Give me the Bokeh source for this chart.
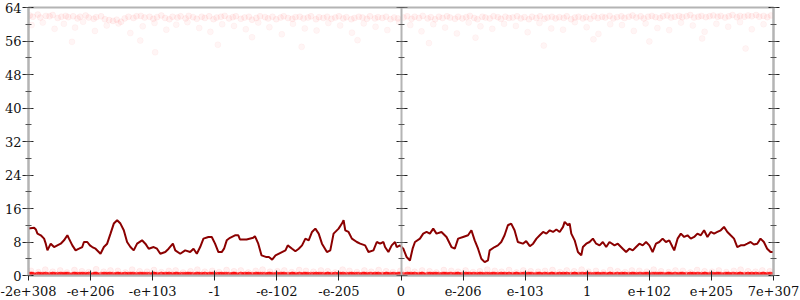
from bokeh.plotting import figure
from bokeh.models import Range1d, LinearAxis, FixedTicker, SingleIntervalTicker, CustomJSTickFormatter
from bokeh.embed import file_html
from bokeh.resources import INLINE

# x positions are in "tick units": -6 .. 6 map to the 13 labelled ticks
tick_pos = [-6, -5, -4, -3, -2, -1, 0, 1, 2, 3, 4, 5, 6]
tick_labels = ["-2e+308", "-e+206", "-e+103", "-1", "-e-102", "-e-205", "0",
               "e-206", "e-103", "1", "e+102", "e+205", "7e+307"]

# dense band of points near the top
hi_x = [-5.98, -5.93, -5.85, -5.81, -5.72, -5.66, -5.61, -5.53, -5.47, -5.40,
        -5.36, -5.28, -5.21, -5.17, -5.08, -5.03, -4.95, -4.91, -4.83, -4.77,
        -4.70, -4.64, -4.58, -4.51, -4.45, -4.39, -4.31, -4.26, -4.19, -4.13,
        -4.05, -3.99, -3.93, -3.86, -3.80, -3.73, -3.68, -3.60, -3.55, -3.47,
        -3.42, -3.35, -3.29, -3.21, -3.16, -3.09, -3.02, -2.97, -2.90, -2.84,
        -2.77, -2.71, -2.66, -2.58, -2.52, -2.45, -2.40, -2.33, -2.27, -2.19,
        -2.14, -2.07, -2.01, -1.94, -1.89, -1.82, -1.75, -1.70, -1.63, -1.57,
        -1.50, -1.45, -1.37, -1.32, -1.25, -1.19, -1.12, -1.06, -1.00, -0.93,
        -0.88, -0.80, -0.75, -0.68, -0.62, -0.55, -0.50, -0.42, -0.37, -0.30,
        -0.24, -0.17, -0.11, -0.05,
        0.04, 0.10, 0.17, 0.22, 0.29, 0.35, 0.43, 0.48, 0.55, 0.61,
        0.67, 0.74, 0.79, 0.87, 0.92, 0.99, 1.05, 1.11, 1.18, 1.23,
        1.31, 1.36, 1.43, 1.49, 1.56, 1.61, 1.68, 1.74, 1.80, 1.87,
        1.93, 1.99, 2.06, 2.11, 2.18, 2.24, 2.31, 2.36, 2.43, 2.49,
        2.55, 2.62, 2.67, 2.74, 2.80, 2.86, 2.93, 2.98, 3.05, 3.11,
        3.17, 3.24, 3.29, 3.36, 3.42, 3.48, 3.55, 3.60, 3.67, 3.73,
        3.79, 3.86, 3.91, 3.98, 4.04, 4.10, 4.17, 4.22, 4.29, 4.35,
        4.41, 4.48, 4.53, 4.60, 4.66, 4.72, 4.79, 4.84, 4.91, 4.97,
        5.03, 5.10, 5.15, 5.22, 5.28, 5.34, 5.41, 5.46, 5.53, 5.59,
        5.65, 5.72, 5.77, 5.84, 5.90, 5.96]
hi_y = [62.1, 61.8, 62.3, 61.6, 62.0, 61.9, 62.2, 61.5, 61.8, 62.0,
        61.7, 61.9, 61.4, 61.8, 62.1, 61.6, 61.3, 61.7, 61.9, 61.2,
        61.0, 60.8, 61.1, 60.6, 61.4, 61.8, 61.5, 61.9, 62.0, 61.6,
        61.8, 61.3, 61.7, 62.1, 61.5, 61.2, 61.8, 61.6, 61.9, 61.4,
        62.0, 61.7, 61.3, 61.8, 61.5, 61.9, 61.2, 61.6, 61.8, 62.0,
        61.4, 61.7, 61.9, 61.3, 61.6, 61.8, 61.1, 61.5, 61.9, 61.7,
        61.4, 61.8, 61.2, 61.6, 61.9, 61.5, 61.3, 61.7, 61.8, 61.4,
        61.6, 61.9, 61.2, 61.7, 61.5, 61.8, 61.3, 61.6, 61.9, 61.4,
        61.7, 61.2, 61.5, 61.8, 61.6, 61.3, 61.9, 61.4, 61.7, 61.5,
        61.8, 61.2, 61.6, 61.4,
        61.6, 61.9, 61.3, 61.8, 61.5, 62.0, 61.4, 61.7, 61.2, 61.8,
        61.5, 61.9, 61.6, 61.3, 61.8, 61.4, 61.7, 62.0, 61.5, 61.2,
        61.8, 61.6, 61.4, 61.9, 61.7, 61.3, 61.8, 61.5, 61.6, 61.9,
        61.4, 61.7, 61.2, 61.8, 61.5, 61.9, 61.3, 61.6, 61.8, 61.4,
        61.7, 61.5, 61.9, 61.2, 61.6, 61.8, 61.4, 61.7, 61.3, 61.9,
        61.5, 61.8, 61.6, 62.0, 61.4, 61.7, 61.9, 61.5, 61.8, 62.1,
        61.6, 61.9, 61.4, 61.8, 62.0, 61.7, 61.5, 61.9, 62.1, 61.6,
        61.8, 62.0, 61.7, 61.9, 62.2, 61.6, 61.8, 62.0, 61.7, 61.9,
        62.1, 61.8, 62.0, 61.6, 61.9, 62.2, 61.7, 62.0, 61.8, 62.1,
        61.9, 62.2, 61.8, 62.0, 61.7, 62.1]

# sparser points just below the top band
mid_x = [-5.95, -5.77, -5.58, -5.43, -5.25, -5.12, -4.93, -4.74, -4.55, -4.36,
         -4.16, -3.97, -3.78, -3.62, -3.44, -3.25, -3.07, -2.88, -2.69, -2.50,
         -2.30, -2.12, -1.92, -1.74, -1.55, -1.36, -1.17, -0.98, -0.79, -0.60,
         -0.41, -0.22, -0.03, 0.15, 0.33, 0.52, 0.71, 0.90, 1.09, 1.28,
         1.47, 1.66, 1.85, 2.04, 2.23, 2.42, 2.61, 2.80, 2.99, 3.18,
         3.37, 3.56, 3.75, 3.94, 4.13, 4.32, 4.51, 4.70, 4.89, 5.08,
         5.27, 5.46, 5.65, 5.84]
mid_y = [59.8, 60.4, 58.9, 60.1, 59.2, 60.6, 58.4, 59.7, 60.2, 57.9,
         59.5, 60.3, 58.7, 59.9, 60.5, 59.1, 58.2, 60.0, 59.6, 58.8,
         60.4, 59.3, 57.6, 60.1, 59.0, 58.5, 60.3, 59.7, 58.0, 60.2,
         59.4, 58.6, 60.5, 59.8, 58.3, 60.0, 59.2, 57.8, 60.4, 59.5,
         58.9, 60.1, 59.6, 58.1, 60.3, 59.0, 58.7, 60.5, 59.3, 57.7,
         60.0, 59.8, 58.4, 60.2, 59.1, 58.6, 60.4, 59.7, 58.2, 60.1,
         59.4, 60.5, 58.8, 60.0]

# isolated low outliers of the top group
out_x = [-5.30, -4.20, -3.96, -2.95, -2.40, -1.60, -0.70, 0.45, 1.20, 2.30,
         3.10, 4.00, 4.85, 5.55]
out_y = [55.8, 56.1, 53.3, 55.1, 56.9, 54.6, 56.2, 55.5, 56.8, 54.9,
         56.4, 55.9, 56.6, 54.2]

# faint points just above zero
lo_x = [-5.96, -5.84, -5.73, -5.61, -5.49, -5.38, -5.26, -5.14, -5.03, -4.91,
        -4.79, -4.68, -4.56, -4.44, -4.33, -4.21, -4.09, -3.98, -3.86, -3.74,
        -3.63, -3.51, -3.39, -3.28, -3.16, -3.04, -2.93, -2.81, -2.69, -2.58,
        -2.46, -2.34, -2.23, -2.11, -1.99, -1.88, -1.76, -1.64, -1.53, -1.41,
        -1.29, -1.18, -1.06, -0.94, -0.83, -0.71, -0.59, -0.48, -0.36, -0.24,
        -0.13, -0.01, 0.11, 0.22, 0.34, 0.46, 0.57, 0.69, 0.81, 0.92,
        1.04, 1.16, 1.27, 1.39, 1.51, 1.62, 1.74, 1.86, 1.97, 2.09,
        2.21, 2.32, 2.44, 2.56, 2.67, 2.79, 2.91, 3.02, 3.14, 3.26,
        3.37, 3.49, 3.61, 3.72, 3.84, 3.96, 4.07, 4.19, 4.31, 4.42,
        4.54, 4.66, 4.77, 4.89, 5.01, 5.12, 5.24, 5.36, 5.47, 5.59,
        5.71, 5.82, 5.94]
lo_y = [1.1, 0.8, 1.4, 0.9, 1.2, 0.7, 1.3, 1.0, 0.8, 1.5,
        0.9, 1.2, 1.1, 0.7, 1.4, 1.0, 0.9, 1.3, 0.8, 1.1,
        1.2, 0.7, 1.0, 1.4, 0.9, 1.1, 0.8, 1.3, 1.0, 1.2,
        0.7, 1.1, 1.4, 0.9, 1.0, 1.2, 0.8, 1.3, 1.1, 0.9,
        1.2, 1.0, 0.7, 1.4, 1.1, 0.8, 1.2, 0.9, 1.3, 1.0,
        0.8, 1.1, 1.4, 0.9, 1.2, 1.0, 0.7, 1.3, 1.1, 0.9,
        1.2, 0.8, 1.0, 1.4, 1.1, 0.9, 1.3, 0.7, 1.2, 1.0,
        0.9, 1.1, 1.3, 0.8, 1.2, 1.0, 1.4, 0.9, 1.1, 0.7,
        1.3, 1.0, 0.8, 1.2, 1.1, 0.9, 1.4, 1.0, 0.8, 1.2,
        1.1, 0.7, 1.3, 1.0, 0.9, 1.2, 0.8, 1.1, 1.4, 1.0,
        0.9, 1.2, 1.0]

# points exactly at zero (dense along the whole range)
zero_x = hi_x + lo_x + mid_x
zero_y = [0.0] * len(zero_x)

# running average line
avg_x = [-6.000, -5.909, -5.882, -5.856, -5.802, -5.749, -5.722, -5.695, -5.642, -5.588,
         -5.535, -5.481, -5.428, -5.374, -5.348, -5.294, -5.241, -5.187, -5.134, -5.107,
         -5.053, -5.011, -4.973, -4.920, -4.840, -4.786, -4.733, -4.679, -4.626, -4.572,
         -4.519, -4.465, -4.412, -4.358, -4.305, -4.251, -4.171, -4.118, -4.064, -3.984,
         -3.930, -3.877, -3.797, -3.743, -3.674, -3.636, -3.556, -3.476, -3.396, -3.342,
         -3.289, -3.235, -3.182, -3.102, -3.048, -2.995, -2.941, -2.888, -2.850, -2.807,
         -2.754, -2.674, -2.620, -2.594, -2.487, -2.380, -2.353, -2.299, -2.246, -2.166,
         -2.128, -2.075, -2.021, -1.941, -1.861, -1.824, -1.754, -1.701, -1.647, -1.594,
         -1.540, -1.487, -1.433, -1.380, -1.326, -1.273, -1.193, -1.139, -1.086, -1.005,
         -0.952, -0.925, -0.898, -0.845, -0.791, -0.711, -0.658, -0.578, -0.524, -0.444,
         -0.390, -0.337, -0.283, -0.257, -0.203, -0.150, -0.096, -0.070, -0.016, 0.037,
         0.091, 0.144, 0.187, 0.225, 0.305, 0.358, 0.412, 0.465, 0.519, 0.572,
         0.652, 0.733, 0.813, 0.866, 0.920, 1.000, 1.080, 1.134, 1.187, 1.241,
         1.294, 1.348, 1.401, 1.428, 1.508, 1.561, 1.615, 1.668, 1.722, 1.775,
         1.829, 1.882, 1.963, 2.016, 2.075, 2.128, 2.182, 2.235, 2.289, 2.342,
         2.396, 2.449, 2.503, 2.556, 2.610, 2.636, 2.690, 2.717, 2.743, 2.797,
         2.850, 2.904, 2.930, 2.984, 3.037, 3.091, 3.144, 3.198, 3.251, 3.305,
         3.358, 3.439, 3.492, 3.572, 3.626, 3.679, 3.733, 3.786, 3.840, 3.893,
         3.947, 4.000, 4.053, 4.107, 4.160, 4.214, 4.267, 4.321, 4.374, 4.401,
         4.455, 4.508, 4.561, 4.615, 4.668, 4.722, 4.775, 4.829, 4.882, 4.936,
         4.989, 5.043, 5.096, 5.150, 5.203, 5.257, 5.310, 5.364, 5.417, 5.471,
         5.524, 5.578, 5.631, 5.684, 5.738, 5.791, 5.845, 5.898, 5.952, 6.000]
avg_y = [11.2, 11.4, 11.0, 10.0, 9.6, 8.8, 7.6, 6.0, 7.6, 6.8,
         7.2, 7.6, 8.4, 9.6, 8.8, 7.2, 6.0, 6.4, 6.8, 8.0,
         8.0, 7.2, 6.8, 6.4, 5.2, 6.8, 7.6, 10.0, 12.4, 13.2,
         12.4, 10.8, 8.0, 6.8, 6.0, 7.6, 8.4, 7.6, 6.4, 6.8,
         6.4, 5.2, 5.6, 6.4, 7.6, 6.0, 5.2, 6.0, 5.6, 6.4,
         5.2, 6.8, 8.8, 9.2, 9.2, 7.6, 5.6, 5.6, 6.4, 8.4,
         9.0, 9.6, 9.6, 8.6, 8.6, 9.0, 9.4, 7.6, 4.8, 4.4,
         4.4, 3.8, 4.8, 5.4, 6.0, 7.2, 6.4, 5.8, 6.4, 7.2,
         8.8, 8.4, 10.4, 11.2, 10.0, 7.6, 5.6, 6.0, 10.0, 11.2,
         12.4, 13.2, 10.8, 10.4, 8.8, 8.0, 7.6, 7.2, 5.6, 6.0,
         8.0, 7.6, 8.0, 6.8, 5.6, 7.2, 8.0, 6.8, 7.2, 6.4,
         4.4, 3.6, 6.4, 8.0, 8.8, 10.0, 10.4, 10.0, 11.2, 10.0,
         10.4, 9.2, 6.8, 6.4, 8.8, 9.2, 9.6, 10.8, 8.4, 6.4,
         4.0, 3.2, 3.6, 6.0, 6.8, 7.2, 8.0, 9.6, 12.0, 12.4,
         10.8, 8.0, 7.6, 8.2, 7.0, 7.6, 8.8, 9.6, 10.4, 10.0,
         10.8, 10.4, 11.0, 10.4, 11.6, 12.8, 12.0, 12.4, 10.0, 8.4,
         5.6, 4.8, 6.8, 7.6, 8.0, 8.8, 7.6, 7.2, 8.0, 6.8,
         8.0, 7.2, 7.6, 6.4, 5.6, 6.4, 6.0, 6.8, 7.6, 7.2,
         8.0, 7.2, 5.6, 7.6, 8.0, 8.8, 8.0, 8.4, 6.8, 6.0,
         8.8, 10.0, 9.2, 9.6, 8.8, 9.2, 10.0, 9.6, 10.8, 9.2,
         10.4, 10.0, 10.4, 10.8, 11.6, 10.4, 9.6, 8.8, 6.8, 7.2,
         7.2, 7.6, 8.0, 7.4, 7.6, 8.8, 8.0, 6.4, 5.6, 5.6]

AXIS_GREY = "#b4b4b4"
TICK_DARK = "#222222"
FONT = "DejaVu Serif"

p = figure(width=800, height=300, x_range=Range1d(-6, 6), y_range=Range1d(0, 64),
           output_backend="svg", toolbar_location=None,
           min_border_left=28, min_border_right=27, min_border_top=7, min_border_bottom=25)
p.grid.visible = False
p.outline_line_color = AXIS_GREY
p.outline_line_width = 2
p.background_fill_color = "white"
p.border_fill_color = "white"


def style_axis(ax):
    ax.axis_line_color = AXIS_GREY
    ax.axis_line_width = 2
    ax.major_tick_line_color = TICK_DARK
    ax.minor_tick_line_color = "#555555"
    ax.major_tick_in = 5
    ax.major_tick_out = 6
    ax.minor_tick_in = 3
    ax.minor_tick_out = 3
    ax.major_label_text_font = FONT
    ax.major_label_text_color = "#111111"
    ax.major_label_text_font_size = "13px"


p.yaxis.ticker = SingleIntervalTicker(interval=8, num_minor_ticks=2)
style_axis(p.yaxis[0])
p.yaxis.major_label_standoff = 1

blank = CustomJSTickFormatter(code="return ''")

right_axis = LinearAxis(ticker=SingleIntervalTicker(interval=8, num_minor_ticks=2),
                        formatter=blank)
style_axis(right_axis)
right_axis.major_label_standoff = 0
p.add_layout(right_axis, "right")

mid_axis = LinearAxis(ticker=SingleIntervalTicker(interval=8, num_minor_ticks=2),
                      formatter=CustomJSTickFormatter(code="return ''"), fixed_location=0)
style_axis(mid_axis)
mid_axis.major_label_standoff = 0
p.add_layout(mid_axis, "right")

p.xaxis.ticker = FixedTicker(ticks=tick_pos, minor_ticks=[])
p.xaxis.major_label_overrides = {t: lab for t, lab in zip(tick_pos, tick_labels)}
style_axis(p.xaxis[0])
p.xaxis.major_tick_in = 5
p.xaxis.major_tick_out = 5
p.xaxis.major_label_standoff = 5

# scatter layers
p.scatter(hi_x, hi_y, size=6, color="red", fill_alpha=0.05, line_alpha=0.04)
p.scatter(mid_x, mid_y, size=6, color="red", fill_alpha=0.04, line_alpha=0.03)
p.scatter(out_x, out_y, size=6, color="red", fill_alpha=0.04, line_alpha=0.03)
p.scatter(lo_x, lo_y, size=6, color="red", fill_alpha=0.06, line_alpha=0.05)
p.scatter(zero_x, zero_y, size=7, color="red", fill_alpha=0.45, line_alpha=0.3)

p.line(avg_x, avg_y, line_color="#8b0000", line_width=2)

open("out.html", "w").write(file_html(p, INLINE))
